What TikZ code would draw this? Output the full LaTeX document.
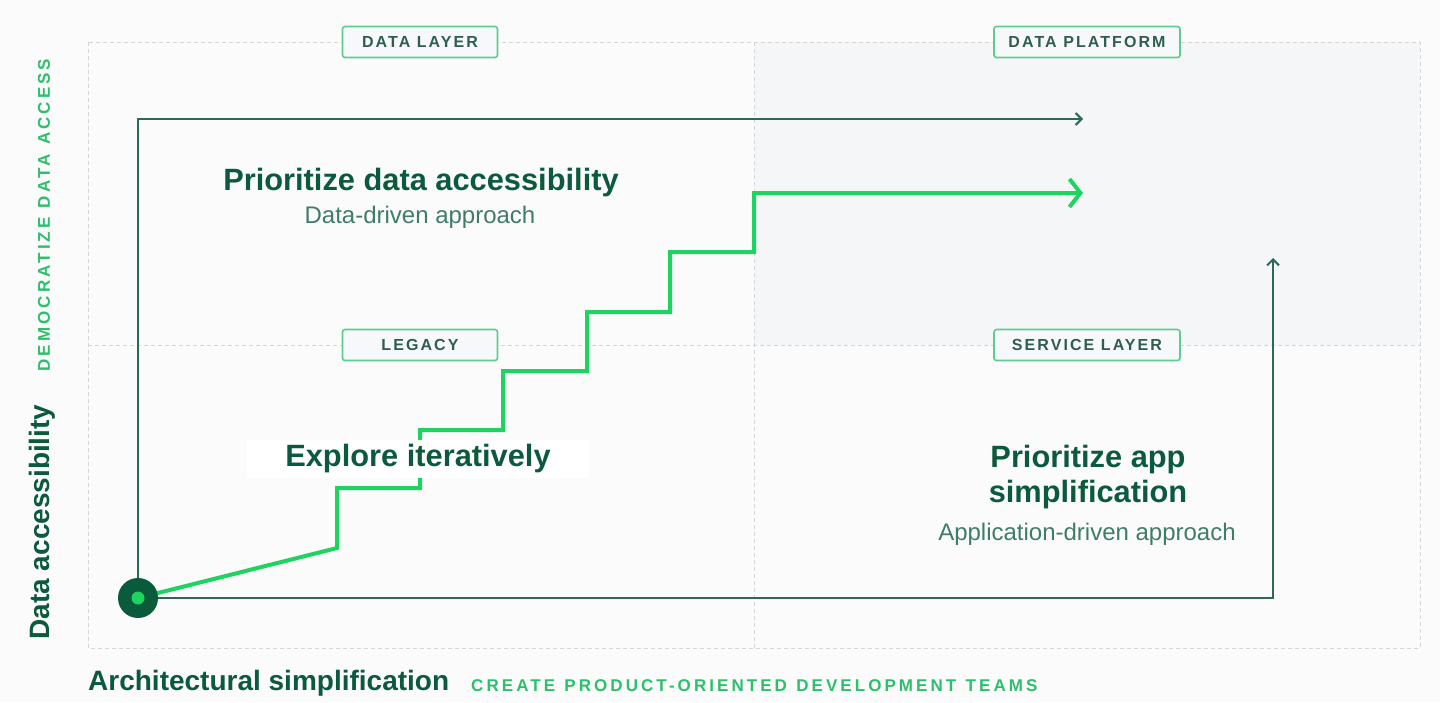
\documentclass[tikz,border=0pt]{standalone}
\usepackage{fontspec}
\setmainfont{Liberation Sans}
\usetikzlibrary{arrows.meta}
\definecolor{bgc}{HTML}{FBFBFB}
\definecolor{quadc}{HTML}{F4F6F8}
\definecolor{gridc}{HTML}{D3D6D8}
\definecolor{darkline}{HTML}{2B6A55}
\definecolor{bright}{HTML}{1ED35F}
\definecolor{headc}{HTML}{0C5A3E}
\definecolor{subc}{HTML}{3F7D68}
\definecolor{tagborder}{HTML}{5FCB91}
\definecolor{tagtext}{HTML}{2F5E50}
\definecolor{tagfill}{HTML}{F6F8F9}
\definecolor{axisc}{HTML}{2DBF6B}
\definecolor{dotc}{HTML}{0A5A3C}
\newcommand{\wsp}{\hspace{0.55em}}
\begin{document}
\begin{tikzpicture}[x=1pt,y=-1pt,
  gridline/.style={draw=gridc, line width=1pt, dash pattern=on 4pt off 3pt},
  tag/.style={draw=tagborder, fill=tagfill, line width=1.6pt, rounded corners=2.5pt,
    minimum height=31pt, inner sep=0pt, text=tagtext,
    font=\fontsize{16}{18}\selectfont\bfseries\addfontfeature{LetterSpace=13}},
  darkarrow/.style={draw=darkline, line width=2pt,
    -{Straight Barb[length=6pt,width=12pt,line width=2pt]}},
  stair/.style={draw=bright, line width=4pt,
    -{Straight Barb[length=11pt,width=28pt,line width=4pt]}},
  headtxt/.style={text=headc, font=\fontsize{30.8}{35}\selectfont\bfseries, inner sep=0pt, align=center},
  subtxt/.style={text=subc, font=\fontsize{24}{28}\selectfont, inner sep=0pt},
  axistitle/.style={text=headc, font=\fontsize{28}{32}\selectfont\bfseries, inner sep=0pt},
  axissub/.style={text=axisc, font=\fontsize{17}{20}\selectfont\bfseries\addfontfeature{LetterSpace=18}, inner sep=0pt},
]
% canvas
\fill[bgc] (0,0) rectangle (1440,702);
\useasboundingbox (0,0) rectangle (1440,702);
% shaded quadrant
\fill[quadc] (754,42) rectangle (1420,345);
% dashed grid
\draw[gridline] (88,42) rectangle (1420,648);
\draw[gridline] (754,42) -- (754,648);
\draw[gridline] (88,345) -- (1420,345);
% quadrant tags
\node[tag, minimum width=155pt] (datalayer) at (420,42) {DATA LAYER};
\node[tag, minimum width=186pt] (dataplatform) at (1087,42) {DATA PLATFORM};
\node[tag, minimum width=155pt] (legacy) at (420,345) {LEGACY};
\node[tag, minimum width=186pt] (servicelayer) at (1087,345) {SERVICE LAYER};
% key points
\coordinate (o) at (138,598);
\coordinate (tl) at (138,119);
\coordinate (tlend) at (1083,119);
\coordinate (br) at (1273,598);
\coordinate (brend) at (1273,258);
\coordinate (gend) at (1083,193);
% dark connectors
\draw[darkarrow] (o) -- (tl) -- (tlend);
\draw[darkarrow] (o) -- (br) -- (brend);
% green staircase
\draw[stair] (o) -- (337,548) -- (337,488) -- (420,488) -- (420,430) -- (503,430)
  -- (503,371) -- (587,371) -- (587,312) -- (670,312) -- (670,252) -- (754,252)
  -- (754,193) -- (gend);
% texts
\node[headtxt] (h1) at (421,183) {Prioritize data accessibility};
\node[subtxt] (s1) at (420,217) {Data-driven approach};
\node[headtxt, fill=white, minimum width=342pt, minimum height=38pt] (explore) at (418,459) {Explore iteratively};
\node[headtxt] (h2) at (1088,477) {Prioritize app\\simplification};
\node[subtxt] (s2) at (1087,534) {Application-driven approach};
\node[axistitle, rotate=90] (ya) at (42,522) {Data accessibility};
\node[axissub, rotate=90] (yb) at (44,215) {DEMOCRATIZE\wsp DATA\wsp ACCESS};
\node[axistitle, anchor=west] (xa) at (88,683) {Architectural simplification};
\node[axissub, anchor=west] (xb) at (471,686) {CREATE\wsp PRODUCT-ORIENTED\wsp DEVELOPMENT\wsp TEAMS};
% origin dot
\node[circle, fill=dotc, minimum size=40pt, inner sep=0pt] (dot) at (o) {};
\node[circle, fill=bright, minimum size=13pt, inner sep=0pt] (dotin) at (o) {};
\end{tikzpicture}
\end{document}
